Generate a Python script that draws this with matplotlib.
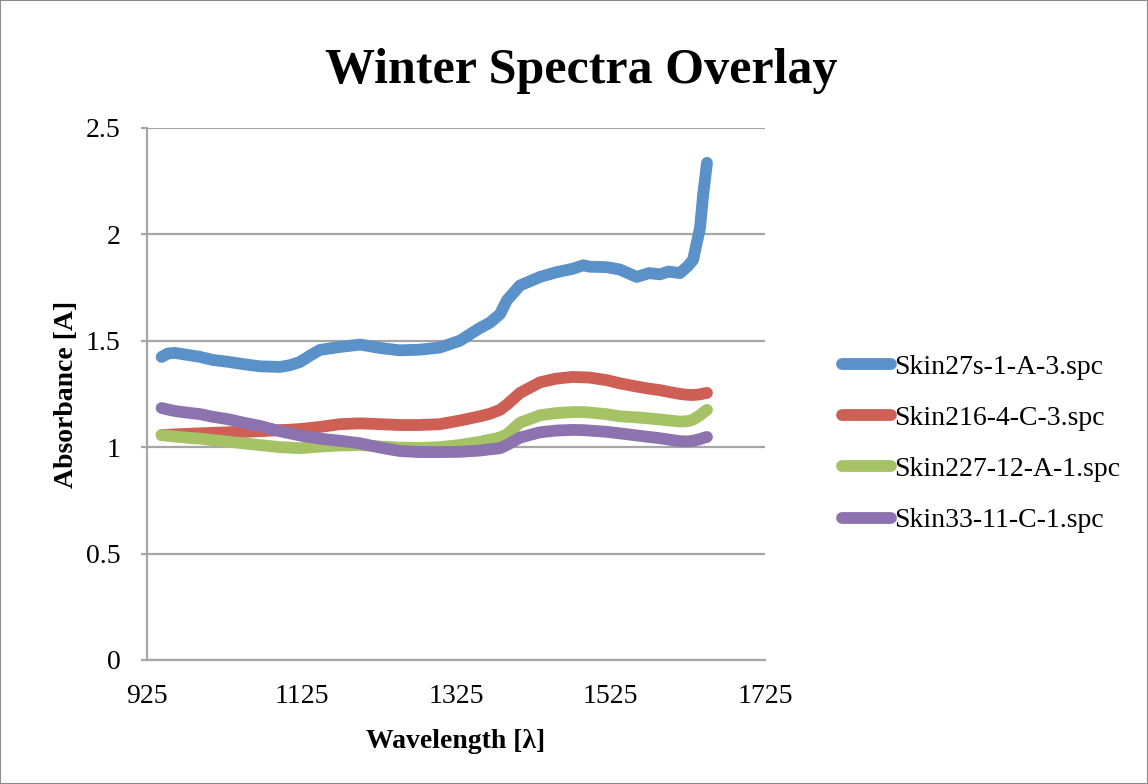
import matplotlib.pyplot as plt
from matplotlib.patches import Rectangle

# wavelength grid
wavelength = [944, 952, 961, 975, 994, 1010, 1032, 1050, 1071, 1097, 1110, 1123, 1136, 1149,
              1175, 1201, 1227, 1252, 1278, 1304, 1330, 1356, 1369, 1382, 1391, 1408, 1434,
              1455, 1476, 1490, 1498, 1520, 1537, 1559, 1575, 1589, 1600, 1615, 1625, 1632,
              1641, 1645, 1650]

skin27s = [1.424, 1.44, 1.443, 1.435, 1.424, 1.41, 1.40, 1.39, 1.38, 1.377, 1.385, 1.40, 1.43,
           1.457, 1.471, 1.482, 1.466, 1.455, 1.458, 1.468, 1.50, 1.56, 1.585, 1.625, 1.69,
           1.76, 1.80, 1.822, 1.838, 1.855, 1.848, 1.846, 1.835, 1.80, 1.818, 1.812, 1.825,
           1.818, 1.85, 1.88, 2.03, 2.185, 2.336]
skin216 = [1.057, 1.058, 1.06, 1.062, 1.065, 1.067, 1.07, 1.072, 1.075, 1.08, 1.082, 1.085,
           1.09, 1.095, 1.108, 1.112, 1.108, 1.104, 1.104, 1.108, 1.125, 1.145, 1.157, 1.175,
           1.20, 1.255, 1.305, 1.322, 1.33, 1.328, 1.327, 1.315, 1.30, 1.285, 1.275, 1.268,
           1.26, 1.25, 1.246, 1.245, 1.248, 1.252, 1.255]
skin227 = [1.057, 1.053, 1.05, 1.045, 1.04, 1.033, 1.025, 1.018, 1.01, 1.0, 0.998, 0.995,
           0.999, 1.003, 1.008, 1.01, 1.003, 0.998, 0.996, 1.0, 1.01, 1.025, 1.035, 1.045,
           1.06, 1.115, 1.15, 1.16, 1.165, 1.165, 1.163, 1.155, 1.145, 1.14, 1.135, 1.13,
           1.126, 1.12, 1.122, 1.13, 1.15, 1.162, 1.175]
skin33 = [1.184, 1.177, 1.17, 1.163, 1.155, 1.143, 1.13, 1.115, 1.10, 1.075, 1.065, 1.055,
          1.047, 1.04, 1.03, 1.018, 0.998, 0.982, 0.977, 0.977, 0.978, 0.984, 0.99, 0.995,
          1.01, 1.045, 1.07, 1.078, 1.081, 1.08, 1.078, 1.072, 1.065, 1.055, 1.048, 1.042,
          1.036, 1.028, 1.027, 1.03, 1.038, 1.043, 1.048]

names = ["Skin27s-1-A-3.spc", "Skin216-4-C-3.spc", "Skin227-12-A-1.spc", "Skin33-11-C-1.spc"]
colors = ["#5A91C8", "#CD5F55", "#A5C364", "#8C73AF"]

xticks = [925, 1125, 1325, 1525, 1725]
yticks = [0, 0.5, 1, 1.5, 2, 2.5]

plt.rcParams['font.family'] = ['Liberation Serif', 'DejaVu Serif']

fig = plt.figure(figsize=(11.48, 7.84), dpi=100)
ax = fig.add_axes([0.128, 0.1582, 0.5383, 0.6786])

for series, name, c in zip([skin27s, skin216, skin227, skin33], names, colors):
    ax.plot(wavelength, series, color=c, lw=8.5, solid_capstyle='round',
            solid_joinstyle='round', label=name)

ax.set_xlim(925, 1725)
ax.set_ylim(0, 2.5)
ax.set_xticks(xticks)
ax.set_yticks(yticks)
ax.set_yticklabels(["0", "0.5", "1", "1.5", "2", "2.5"])
ax.tick_params(axis='x', length=0, labelsize=20, pad=17)
ax.tick_params(axis='y', length=4, width=1.6, color='#A6A6A6', labelsize=20, pad=15)
ax.grid(axis='y', color='#A6A6A6', lw=1.6)
ax.set_axisbelow(True)
for side in ['top', 'right']:
    ax.spines[side].set_visible(False)
for side in ['left', 'bottom']:
    ax.spines[side].set_color('#A6A6A6')
    ax.spines[side].set_linewidth(1.6)

ax.set_xlabel("Wavelength [λ]", fontsize=20, fontweight='bold', labelpad=15)
ax.set_ylabel("Absorbance [A]", fontsize=20, fontweight='bold', labelpad=5)
fig.text(0.506, 0.91, "Winter Spectra Overlay", ha='center', va='center',
         fontsize=36, fontweight='bold')

ax.legend(loc='center left', bbox_to_anchor=(0.712, 0.434), bbox_transform=fig.transFigure,
          frameon=False, fontsize=20, handlelength=1.75, handletextpad=0.1,
          labelspacing=0.93)

fig.patches.append(Rectangle((0, 0), 1, 1, transform=fig.transFigure, fill=False,
                             edgecolor='#8C8C8C', lw=1.5))

fig.savefig("out.png", dpi=100)
